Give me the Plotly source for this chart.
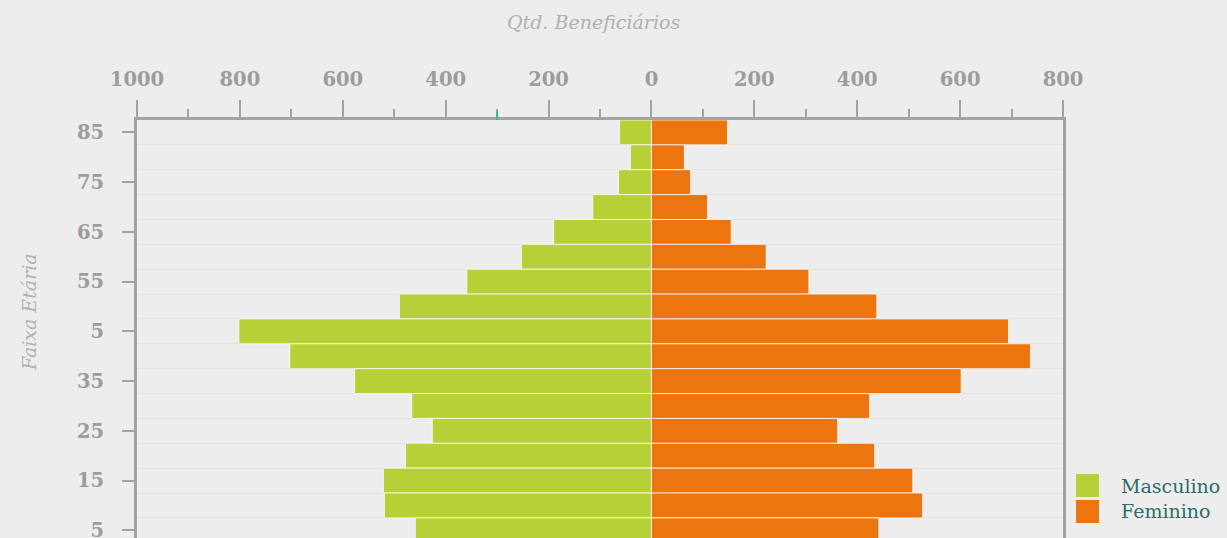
import plotly.graph_objects as go

# ---- data ----
ages = [85, 80, 75, 70, 65, 60, 55, 50, 45, 40, 35, 30, 25, 20, 15, 10, 5]
masculino = [62, 41, 64, 114, 190, 253, 359, 490, 802, 703, 577, 466, 426, 478, 521, 519, 459]
feminino = [148, 64, 76, 109, 155, 223, 306, 438, 694, 737, 602, 424, 362, 434, 508, 527, 442]

y_tickvals = [85, 75, 65, 55, 45, 35, 25, 15, 5]
y_ticktext = ["85", "75", "65", "55", "5", "35", "25", "15", "5"]
x_tickvals = [-1000, -800, -600, -400, -200, 0, 200, 400, 600, 800]
x_ticktext = ["1000", "800", "600", "400", "200", "0", "200", "400", "600", "800"]

GREEN = "#b8d037"
ORANGE = "#ec750f"
BG = "#ededed"
AXIS = "#a3a3a3"
TICKFONT = dict(family="DejaVu Serif", size=19.5, color="#9c9c9c", weight="bold")
TITLEFONT = dict(family="DejaVu Serif", size=19, color="#b0b0b0", style="italic")

fig = go.Figure()
fig.add_trace(go.Bar(
    y=ages, x=[-v for v in masculino], orientation="h", name="Masculino",
    marker=dict(color=GREEN, line=dict(color="rgba(255,255,255,0.75)", width=1)),
    width=5, showlegend=False,
))
fig.add_trace(go.Bar(
    y=ages, x=feminino, orientation="h", name="Feminino",
    marker=dict(color=ORANGE, line=dict(color="rgba(255,255,255,0.75)", width=1)),
    width=5, showlegend=False,
))

fig.update_layout(
    width=1227, height=538,
    margin=dict(l=137, r=164, t=120, b=0),
    paper_bgcolor=BG, plot_bgcolor=BG,
    barmode="overlay",
    xaxis=dict(
        side="top", range=[-1000, 800],
        tickvals=x_tickvals, ticktext=x_ticktext,
        ticks="outside", ticklen=17, tickwidth=2, tickcolor=AXIS,
        minor=dict(dtick=100, tick0=0, ticks="outside", ticklen=8, tickwidth=2, tickcolor=AXIS, showgrid=False),
        showline=True, linecolor=AXIS, linewidth=3,
        showgrid=False, zeroline=False, automargin=False,
        tickfont=TICKFONT, ticklabelstandoff=6,
    ),
    yaxis=dict(
        range=[3.46, 87.5],
        tickvals=y_tickvals, ticktext=y_ticktext,
        ticks="outside", ticklen=12, tickwidth=2, tickcolor=AXIS,
        showline=True, linecolor=AXIS, linewidth=3, mirror=True,
        showgrid=False, zeroline=False, automargin=False,
        minor=dict(tickvals=[a - 2.5 for a in ages], showgrid=True, gridcolor="#e3e3e3", gridwidth=1, ticks=""),
        tickfont=TICKFONT, ticklabelstandoff=14, ticklabeloverflow="allow",
    ),
    annotations=[
        dict(text="Qtd. Beneficiários", xref="paper", yref="paper", x=0.4925, y=1.234,
             showarrow=False, font=TITLEFONT, xanchor="center", yanchor="middle"),
        dict(text="Faixa Etária", xref="paper", yref="paper", x=-0.1166, y=0.5407,
             showarrow=False, font=TITLEFONT, textangle=-90, xanchor="center", yanchor="middle"),
        dict(text="Masculino", xref="paper", yref="paper", x=1.0605, y=0.1244,
             showarrow=False, font=dict(family="DejaVu Serif", size=19, color="#2d6e6a"),
             xanchor="left", yanchor="middle"),
        dict(text="Feminino", xref="paper", yref="paper", x=1.0605, y=0.0646,
             showarrow=False, font=dict(family="DejaVu Serif", size=19, color="#2d6e6a"),
             xanchor="left", yanchor="middle"),
    ],
    shapes=[
        dict(type="rect", xref="paper", yref="paper", x0=1.0140, x1=1.0389, y0=0.0981, y1=0.1531,
             fillcolor=GREEN, line=dict(width=0)),
        dict(type="rect", xref="paper", yref="paper", x0=1.0140, x1=1.0389, y0=0.0359, y1=0.0909,
             fillcolor=ORANGE, line=dict(width=0)),
        dict(type="line", xref="x", yref="paper", x0=-300, x1=-300, y0=1.0, y1=1.022,
             line=dict(color="#3cb878", width=2)),
    ],
)

fig.write_html(
    "out.html",
    config={"displayModeBar": False},
    post_script="document.body.style.margin='0';document.body.style.overflow='hidden';"
                "document.body.style.background='#ededed';",
)
